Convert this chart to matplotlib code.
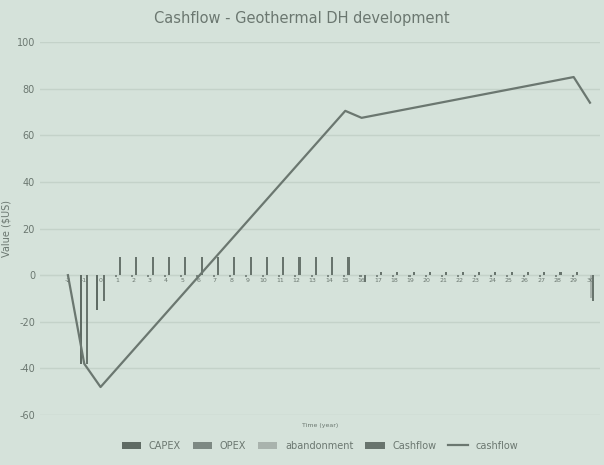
import numpy as np
import matplotlib.pyplot as plt

years = list(range(-2, 31))
capex = {-1: -38, 0: -15}
opex = {y: -0.6 for y in range(1, 30)}
abandonment = {30: -10}
cashflow_bar = {-1: -38, 0: -11, 16: -3, 30: -11}
cashflow_bar.update({y: 8 for y in range(1, 16)})
cashflow_bar.update({y: 1.3 for y in range(17, 30)})
cum_line = [0, -38, -48] + [-48 + 7.9 * i for i in range(1, 16)] + [67.5] + \
    [67.5 + 17.5 / 13 * i for i in range(1, 14)] + [74]

bg = '#d5e2da'
fg = '#6b7770'
plt.rcParams['font.family'] = 'DejaVu Sans'
plt.rcParams['axes.unicode_minus'] = False

fig = plt.figure(figsize=(6.04, 4.65), dpi=100, facecolor=bg)
ax = fig.add_axes([0.066, 0.1075, 0.927, 0.802], facecolor=bg)
x = np.arange(len(years))
w = 0.13
series = [(capex, 'CAPEX', '#5f6b64'), (opex, 'OPEX', '#7d8983'),
          (abandonment, 'abandonment', '#a9b3ad'), (cashflow_bar, 'Cashflow', '#68746d')]
handles = []
for k, (d, lab, c) in enumerate(series):
    vals = [d.get(y, 0) for y in years]
    handles.append(ax.bar(x + (k - 1.5) * w, vals, width=w, color=c, label=lab))
ln, = ax.plot(x, cum_line, color=fg, lw=1.6, label='cashflow')
handles.append(ln)

ax.set_xlim(-1.72, 32.6)
ax.set_ylim(-60, 100)
ax.set_yticks(range(-60, 101, 20))
ax.grid(axis='y', color='#c4d2c9', lw=1)
ax.set_axisbelow(True)
for s in ax.spines.values():
    s.set_visible(False)
ax.set_xticks([])
ax.tick_params(axis='y', length=0, labelsize=7, colors=fg)
for xi, y in zip(x, years):
    ax.text(xi, -2.5, str(y), ha='center', va='center', fontsize=4.5, color=fg)
ax.axhline(0, color='#b9c6be', lw=0.8, zorder=0)
ax.set_ylabel('Value ($US)', fontsize=7, color=fg)
ax.set_xlabel('Time (year)', fontsize=4.5, color=fg, labelpad=6)
fig.text(0.5, 0.96, 'Cashflow - Geothermal DH development', ha='center', va='center',
         fontsize=10.5, color=fg)
ax.legend(handles=handles, loc='upper center', bbox_to_anchor=(0.5, -0.045), ncol=5,
          frameon=False, fontsize=7, labelcolor=fg, handlelength=2, columnspacing=1.2)
fig.savefig('out.png', dpi=100, facecolor=bg)
